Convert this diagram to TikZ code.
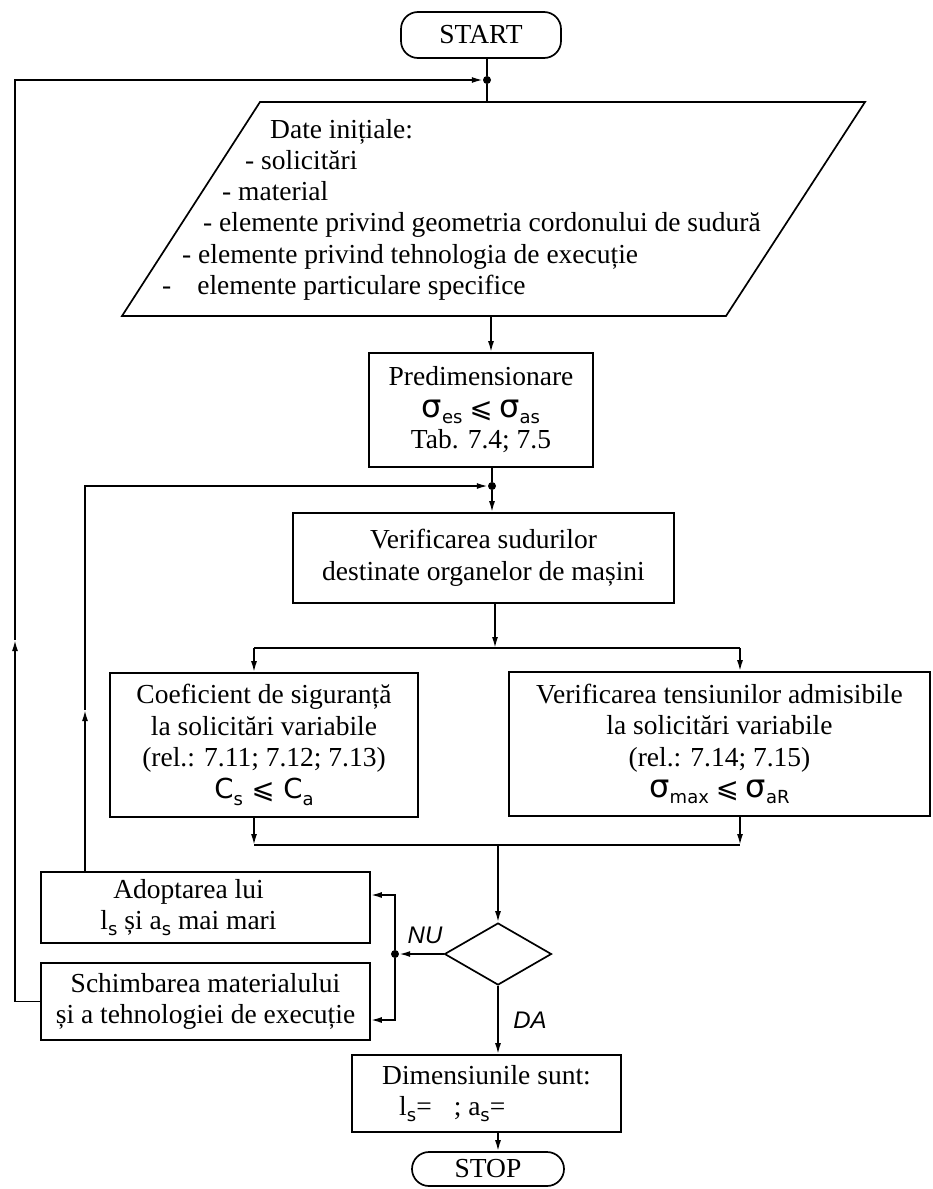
\documentclass[tikz,border=0pt]{standalone}
\usepackage{fontspec}
\setmainfont{Liberation Serif}
\newfontfamily\labelfont{Liberation Sans}
\newfontfamily\handfont{DejaVu Sans}
\usetikzlibrary{shapes.geometric,arrows.meta}
% lowered index in a plain sans hand
\newcommand{\lowidx}[1]{\raisebox{-0.5ex}{\handfont\fontsize{18}{18}\selectfont #1}}
% tall stress symbol
\newcommand{\stress}{{\handfont\fontsize{32}{32}\selectfont σ}}
\newcommand{\bodysize}{\fontsize{27.5}{31.5}\selectfont}

\begin{document}
\begin{tikzpicture}[x=1pt,y=-1pt,
  line/.style={line width=1.7pt},
  flow/.style={line, -{Latex[length=11pt,width=6pt]}},
  box/.style={draw, line width=1.7pt, align=center, inner sep=0pt, font=\bodysize},
  term/.style={box, rounded corners=17pt},
  dot/.style={circle, fill, inner sep=0pt, minimum size=8pt},
  tag/.style={font=\labelfont\itshape\fontsize{24}{24}\selectfont, anchor=base, inner sep=0pt},
  inlabel/.style={font=\bodysize, anchor=base west, inner sep=0pt}
]
\useasboundingbox (0,0) rectangle (932,1189);

% terminals
\node[term, minimum width=160pt, minimum height=46pt] (start) at (481,35) {START};
\node[term, minimum width=152pt, minimum height=34pt] (stop) at (488,1169) {STOP};

% input data (parallelogram)
\node[dot] (j1) at (487,80) {};
\coordinate (datatop) at (487,102);
\coordinate (databot) at (491,316);
\coordinate (ptl) at (260,102);
\coordinate (ptr) at (865,102);
\coordinate (pbr) at (726,316);
\coordinate (pbl) at (122,316);
\draw[line] (ptl) -- (ptr) -- (pbr) -- (pbl) -- cycle;
\node[inlabel] (d1) at (270,138) {Date inițiale:};
\node[inlabel] (d2) at (245,169) {- solicitări};
\node[inlabel] (d3) at (222,200) {- material};
\node[inlabel] (d4) at (203,231) {- elemente privind geometria cordonului de sudură};
\node[inlabel] (d5) at (182,263) {- elemente privind tehnologia de execuție};
\node[inlabel] (d6) at (162,294) {-\hspace*{26pt}elemente particulare specifice};

% processing boxes
\node[box, minimum width=224pt, minimum height=114pt] (predim) at (481,410)
  {Predimensionare\\ {\stress\lowidx{es} {\handfont ⩽} \stress\lowidx{as}}\\ Tab. 7.4; 7.5};
\node[dot] (j2) at (492,486) {};
\node[box, minimum width=381pt, minimum height=90pt] (verif) at (483.5,558)
  {Verificarea sudurilor\\ destinate organelor de mașini};

\coordinate (split) at (495,648);
\coordinate (splitl) at (254,648);
\coordinate (splitr) at (740,648);
\node[box, minimum width=308pt, minimum height=144pt] (coef) at (264,745)
  {Coeficient de siguranță\\ la solicitări variabile\\ (rel.: 7.11; 7.12; 7.13)\\ {\handfont C\lowidx{s} ⩽ C\lowidx{a}}};
\node[box, minimum width=421pt, minimum height=144pt] (vtens) at (719.5,744)
  {Verificarea tensiunilor admisibile\\ la solicitări variabile\\ (rel.: 7.14; 7.15)\\ {\stress\lowidx{max} {\handfont ⩽} \stress\lowidx{aR}}};
\coordinate (mergel) at (254,845);
\coordinate (merger) at (740,845);
\coordinate (merge) at (498,845);

% decision and its branches
\node[diamond, draw, line width=1.7pt, minimum width=107pt, minimum height=62pt, inner sep=0pt] (dec) at (498,954) {};
\node[dot] (j3) at (395,954) {};
\coordinate (nuup) at (395,895);
\coordinate (nudown) at (395,1020);
\node[box, minimum width=329pt, minimum height=71pt] (adopt) at (205.5,907.5)
  {\hspace*{-34pt}Adoptarea lui\\ \hspace*{-34pt}l\lowidx{s} și a\lowidx{s} mai mari};
\node[box, minimum width=329pt, minimum height=77pt] (schimb) at (205.5,1001.5)
  {Schimbarea materialului\\ și a tehnologiei de execuție};
\node[box, minimum width=269pt, minimum height=77pt, align=left] (dimens) at (486.5,1093.5)
  {Dimensiunile sunt:\\ \hspace*{17pt}l\lowidx{s}=\hspace*{22pt}; a\lowidx{s}=};
\node[tag] (nulabel) at (425,943) {NU};
\node[tag] (dalabel) at (530,1028) {DA};

% loop lines
\coordinate (outerbot) at (15,1001.5);
\coordinate (outermid) at (15,640);
\coordinate (outertop) at (15,80);
\coordinate (innermid) at (85,710);
\coordinate (innertop) at (85,486);

% connectors
\draw[line] (j1 |- start.south) -- (j1) -- (datatop);
\draw[flow] (databot) -- (databot |- predim.north);
\draw[line] (j2 |- predim.south) -- (j2);
\draw[flow] (j2) -- (j2 |- verif.north);
\draw[flow] (split |- verif.south) -- (split);
\draw[line] (splitl) -- (splitr);
\draw[flow] (splitl) -- (splitl |- coef.north);
\draw[flow] (splitr) -- (splitr |- vtens.north);
\draw[flow] (mergel |- coef.south) -- (mergel);
\draw[flow] (merger |- vtens.south) -- (merger);
\draw[line] (mergel) -- (merger);
\draw[flow] (merge) -- (dec.north);
\draw[flow] (dec.west) -- (j3);
\draw[flow] (j3) -- (nuup) -- (nuup -| adopt.east);
\draw[flow] (j3) -- (nudown) -- (nudown -| schimb.east);
\draw[flow] (dec.south) -- (dec.south |- dimens.north);
\draw[flow] (dimens.south -| dec.south) -- (stop.north -| dec.south);

\draw[flow] (schimb.west) -- (outerbot) -- (outermid);
\draw[flow] (outermid) -- (outertop) -- (j1);
\draw[flow] (adopt.north -| innermid) -- (innermid);
\draw[flow] (innermid) -- (innertop) -- (j2);
\end{tikzpicture}
\end{document}
